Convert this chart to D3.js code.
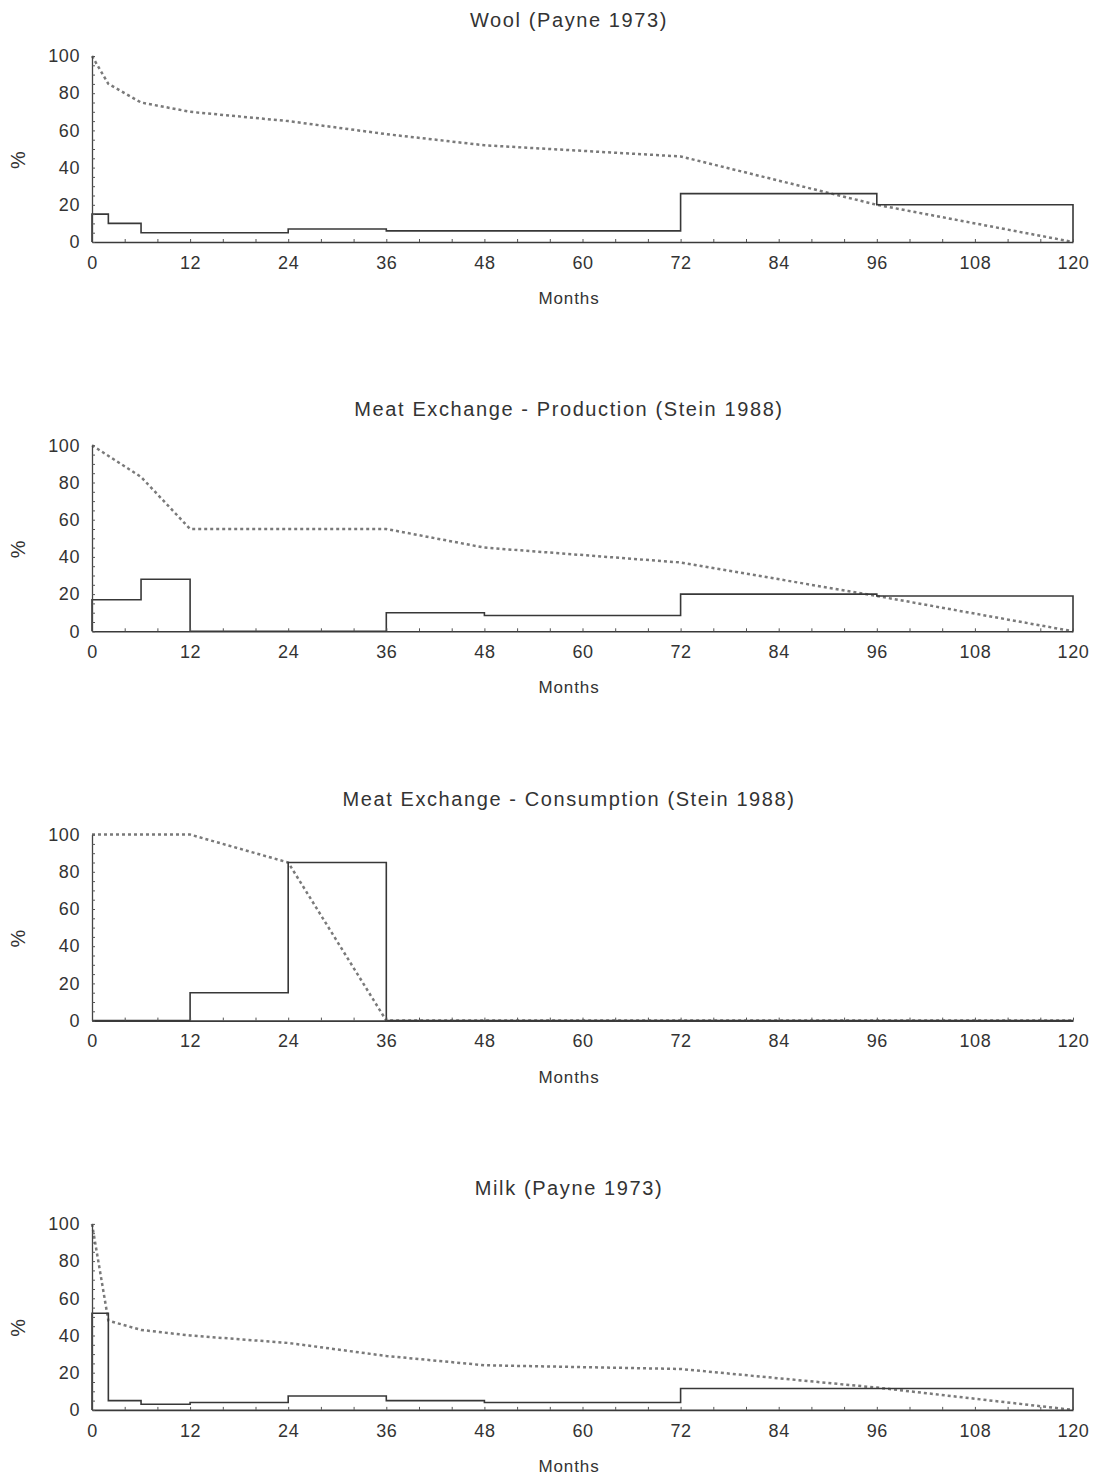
<!DOCTYPE html>
<html>
<head>
<meta charset="utf-8">
<script src="https://cdn.jsdelivr.net/npm/d3@7"></script>
<style>
  html, body { margin: 0; padding: 0; background: #ffffff; }
  svg { display: block; }
  text { font-family: "Liberation Sans", Arial, Helvetica, sans-serif; fill: #333; }
</style>
</head>
<body>
<svg id="chart" width="1099" height="1476"></svg>
<script>
// Age-class boundaries (months)
const payneBreaks = [0, 2, 6, 12, 24, 36, 48, 72, 96, 120];
const steinBreaks = [0, 6, 12, 24, 36, 48, 72, 96, 120];

// Kill-off per age class (%) and cumulative survivorship (%) at each boundary
const woolKill = [15, 10, 5, 5, 7, 6, 6, 26, 20];
const woolSurv = [100, 85, 75, 70, 65, 58, 52, 46, 20, 0];

const prodKill = [17, 28, 0, 0, 10, 8.5, 20, 19];
const prodSurv = [100, 83, 55, 55, 55, 45, 37, 19, 0];

const consKill = [0, 0, 15, 85, 0, 0, 0, 0];
const consSurv = [100, 100, 100, 85, 0, 0, 0, 0, 0];

const milkKill = [52, 5, 3, 4, 7.5, 5, 4, 11.5, 11.5];
const milkSurv = [100, 48, 43, 40, 36, 29, 24, 22, 12, 0];

const panelTitles = [
  "Wool (Payne 1973)",
  "Meat Exchange - Production (Stein 1988)",
  "Meat Exchange - Consumption (Stein 1988)",
  "Milk (Payne 1973)"
];

const xTickValues = [0, 12, 24, 36, 48, 60, 72, 84, 96, 108, 120];
const yTickValues = [0, 20, 40, 60, 80, 100];
const xLabel = "Months";
const yLabel = "%";

const panels = [
  { title: panelTitles[0], breaks: payneBreaks, kill: woolKill, surv: woolSurv },
  { title: panelTitles[1], breaks: steinBreaks, kill: prodKill, surv: prodSurv },
  { title: panelTitles[2], breaks: steinBreaks, kill: consKill, surv: consSurv },
  { title: panelTitles[3], breaks: payneBreaks, kill: milkKill, surv: milkSurv }
];

const svg = d3.select("#chart");
const plotLeft = 92, plotRight = 1073, plotH = 186;
const firstTop = 56, panelStep = 389.3;

const x = d3.scaleLinear().domain([0, 120]).range([plotLeft, plotRight]);

panels.forEach((p, i) => {
  const top = firstTop + i * panelStep;
  const y = d3.scaleLinear().domain([0, 100]).range([top + plotH, top]);
  const g = svg.append("g");

  // title
  g.append("text")
    .attr("x", 569).attr("y", top - 29)
    .attr("text-anchor", "middle")
    .style("font-size", "20px").style("letter-spacing", "1.6px")
    .text(p.title);

  // survivorship curve (dotted)
  const survPts = p.breaks.map((b, k) => [b, p.surv[k]]);
  g.append("path")
    .datum(survPts)
    .attr("fill", "none")
    .attr("stroke", "#7a7a7a")
    .attr("stroke-width", 2.5)
    .attr("stroke-dasharray", "3,3")
    .attr("d", d3.line().x(d => x(d[0])).y(d => y(d[1])));

  // kill-off step outline
  const stepPts = [[0, 0]];
  p.kill.forEach((v, k) => {
    stepPts.push([p.breaks[k], v]);
    stepPts.push([p.breaks[k + 1], v]);
  });
  stepPts.push([120, 0]);
  g.append("path")
    .datum(stepPts)
    .attr("fill", "none")
    .attr("stroke", "#383838")
    .attr("stroke-width", 1.6)
    .attr("d", d3.line().x(d => x(d[0])).y(d => y(d[1])));

  // x axis
  const xAxis = d3.axisBottom(x)
    .tickValues(d3.range(0, 121, 4))
    .tickSizeInner(-3).tickSizeOuter(0)
    .tickFormat("");
  const xa = g.append("g").attr("transform", `translate(0,${top + plotH})`).call(xAxis);
  xa.select(".domain").attr("stroke", "#3a3a3a").attr("stroke-width", 1.6);
  xa.selectAll(".tick line").attr("stroke", "#555").attr("stroke-width", 1);

  const xLab = d3.axisBottom(x).tickValues(xTickValues).tickSize(0).tickPadding(14);
  const xl = g.append("g").attr("transform", `translate(0,${top + plotH})`).call(xLab);
  xl.select(".domain").remove();
  xl.selectAll("text")
    .style("font-size", "18px").style("letter-spacing", "0.6px")
    .style("font-family", "'Liberation Sans', Arial, sans-serif").attr("fill", "#333");

  // y axis
  const yAxis = d3.axisLeft(y)
    .tickValues(d3.range(0, 101, 5))
    .tickSizeInner(-3).tickSizeOuter(0)
    .tickFormat("");
  const ya = g.append("g").attr("transform", `translate(${plotLeft},0)`).call(yAxis);
  ya.select(".domain").attr("stroke", "#444").attr("stroke-width", 1.3);
  ya.selectAll(".tick line").attr("stroke", "#555").attr("stroke-width", 1);

  const yLab = d3.axisLeft(y).tickValues(yTickValues).tickSize(0).tickPadding(12);
  const yl = g.append("g").attr("transform", `translate(${plotLeft},0)`).call(yLab);
  yl.select(".domain").remove();
  yl.selectAll("text")
    .style("font-size", "18px").style("letter-spacing", "0.6px")
    .style("font-family", "'Liberation Sans', Arial, sans-serif").attr("fill", "#333");

  // axis titles
  g.append("text")
    .attr("x", 569).attr("y", top + plotH + 62)
    .attr("text-anchor", "middle")
    .style("font-size", "17px").style("letter-spacing", "0.9px")
    .text(xLabel);

  g.append("text")
    .attr("transform", `translate(25,${top + 104}) rotate(-90)`)
    .attr("text-anchor", "middle")
    .style("font-size", "20px")
    .text(yLabel);
});
</script>
</body>
</html>
